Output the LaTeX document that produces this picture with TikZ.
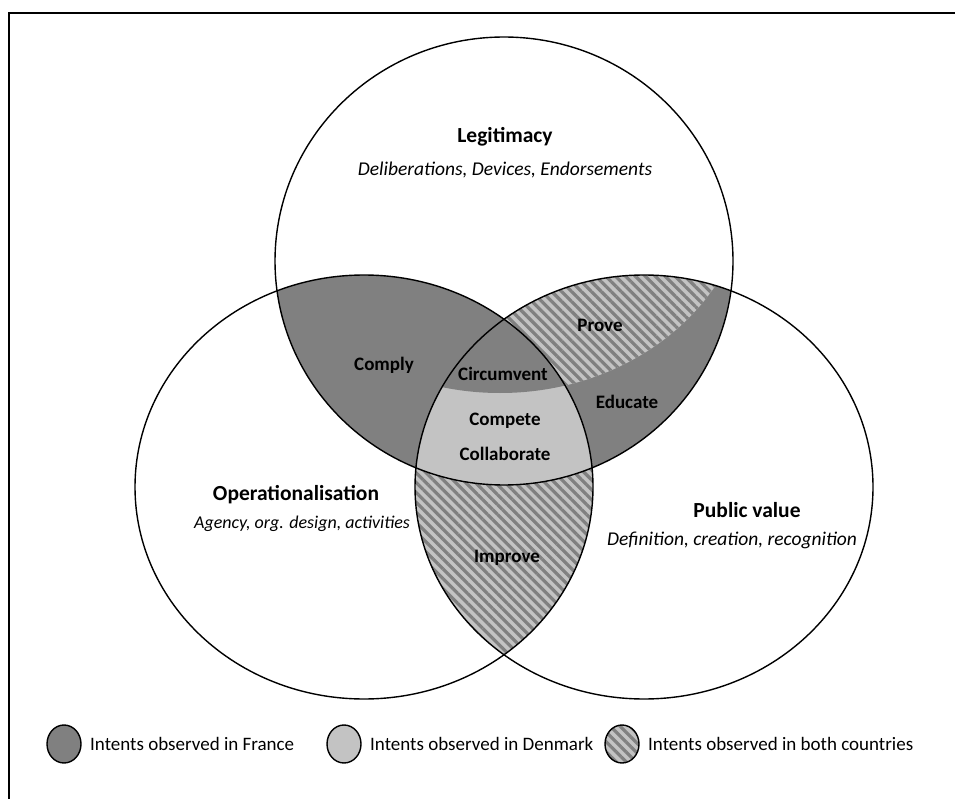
\documentclass[tikz,border=0pt]{standalone}
\usepackage{fontspec}
\setmainfont{Carlito}
\usetikzlibrary{patterns.meta}

\definecolor{france}{HTML}{808080}
\definecolor{denmark}{HTML}{C3C3C3}

% The three sets and the split between the intents
\def\legit{(504,261) ellipse [x radius=229pt, y radius=224pt]}
\def\oper{(364,487) ellipse [x radius=229pt, y radius=212pt]}
\def\pubval{(644,487) ellipse [x radius=229pt, y radius=212pt]}
\def\split{(500,175) ellipse [x radius=250pt, y radius=218pt]}

\tikzset{
  both/.style={pattern={Lines[angle=-45,distance=7pt,line width=3.2pt]},
    pattern color=france},
  setline/.style={line width=1.4pt},
}

\begin{document}
\begin{tikzpicture}[x=1pt,y=-1pt,
    title/.style={font=\fontsize{21.5}{24}\selectfont\bfseries},
    sub/.style={font=\fontsize{19.5}{22}\selectfont\itshape},
    intent/.style={font=\fontsize{19}{22}\selectfont\bfseries},
    key/.style={font=\fontsize{19}{22}\selectfont, anchor=west, inner sep=0pt}]

    \useasboundingbox (0,0) rectangle (955,799);

    % Frame
    \draw[line width=2pt] (9,799) -- (9,13) -- (955,13);

    % Operationalisation and Public value: both countries
    \begin{scope}
        \clip \oper;
        \fill[denmark] \pubval;
        \fill[both] \pubval;
    \end{scope}

    % Legitimacy and Public value
    \begin{scope}
        \clip \legit;
        \fill[france] \pubval;
        \clip \pubval;
        \fill[denmark] \split;
        \fill[both] \split;
    \end{scope}

    % Legitimacy and Operationalisation
    \begin{scope}
        \clip \legit;
        \fill[france] \oper;
    \end{scope}

    % Centre: Denmark below, France above
    \begin{scope}
        \clip \legit;
        \clip \oper;
        \fill[denmark] \pubval;
        \clip \pubval;
        \fill[france] \split;
    \end{scope}

    % Outlines
    \draw[setline] \legit;
    \draw[setline] \oper;
    \draw[setline] \pubval;

    % Set labels
    \node[title] (legit) at (505,137) {Legitimacy};
    \node[sub]   (legitsub) at (505,170) {Deliberations, Devices, Endorsements};
    \node[title] (oper) at (296,495) {Operationalisation};
    \node[sub, font=\fontsize{18}{21}\selectfont\itshape]
                 (opersub) at (302,524) {Agency, org. design, activities};
    \node[title] (pubval) at (747,510) {Public value};
    \node[sub]   (pubvalsub) at (732,540) {Definition, creation, recognition};

    % Intents
    \node[intent] (comply) at (384,365) {Comply};
    \node[intent] (circumvent) at (503,374) {Circumvent};
    \node[intent] (prove) at (600,325) {Prove};
    \node[intent] (educate) at (627,402) {Educate};
    \node[intent] (compete) at (505,421) {Compete};
    \node[intent] (collaborate) at (505,454) {Collaborate};
    \node[intent] (improve) at (507,558) {Improve};

    % Legend
    \draw[setline, fill=france] (64,744) ellipse [x radius=17pt, y radius=19pt];
    \node[key] (kfrance) at (90,744) {Intents observed in France};
    \draw[setline, fill=denmark] (344,744) ellipse [x radius=17pt, y radius=19pt];
    \node[key] (kdenmark) at (370,744) {Intents observed in Denmark};
    \fill[denmark] (622,744) ellipse [x radius=17pt, y radius=19pt];
    \fill[both] (622,744) ellipse [x radius=17pt, y radius=19pt];
    \draw[setline] (622,744) ellipse [x radius=17pt, y radius=19pt];
    \node[key] (kboth) at (648,744) {Intents observed in both countries};

\end{tikzpicture}
\end{document}
